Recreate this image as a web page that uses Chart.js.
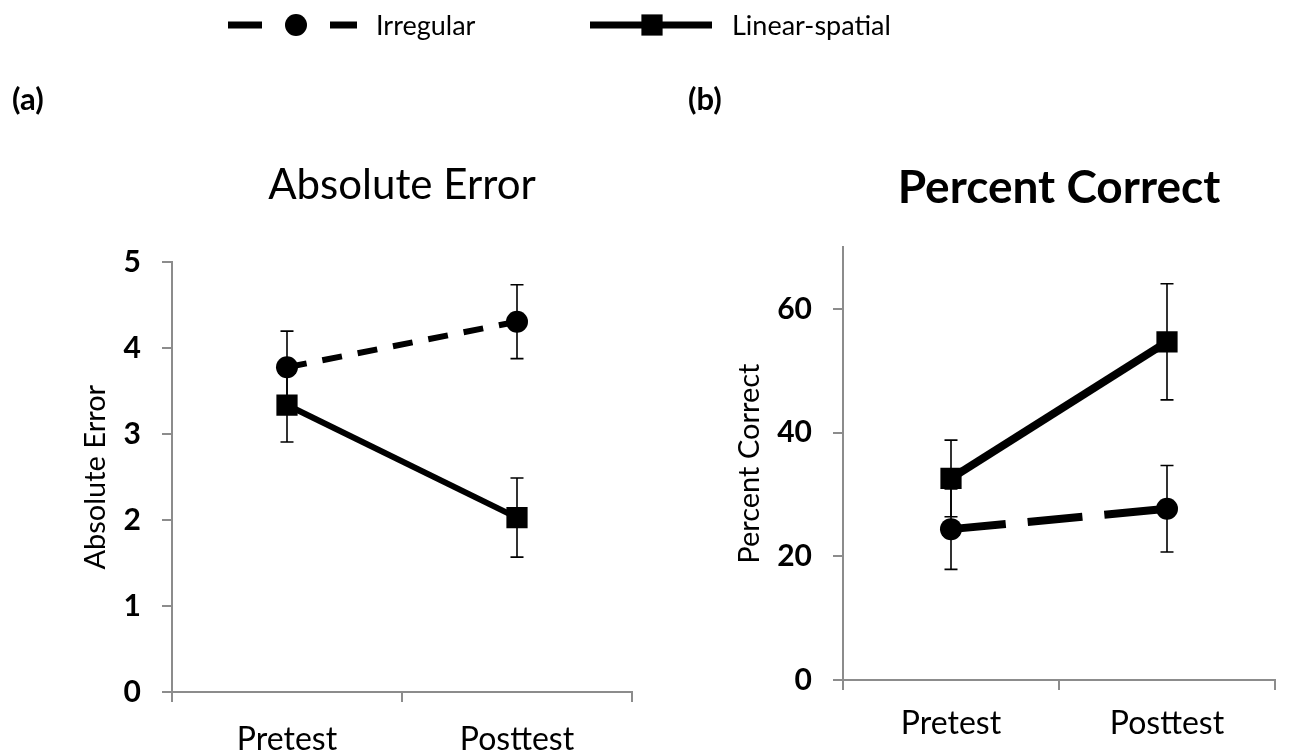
<!DOCTYPE html>
<html>
<head>
<meta charset="utf-8">
<script src="https://cdn.jsdelivr.net/npm/chart.js@4.4.0/dist/chart.umd.min.js"></script>
<style>
    body { margin: 0; background: #fff; width: 1290px; height: 754px; overflow: hidden; position: relative; }
    canvas { position: absolute; top: 0; }
    #errorChart { left: 0; }
    #percentChart { left: 560px; }
</style>
</head>
<body>
<canvas id="errorChart" width="650" height="754"></canvas>
<canvas id="percentChart" width="730" height="754"></canvas>
<script>
const FONT = 'Lato';
const AXIS_GRAY = '#8c8c8c';

const categories = ['Pretest', 'Posttest'];
const seriesNames = ['Irregular', 'Linear-spatial'];

// (a) absolute error
const errorTicks = [0, 1, 2, 3, 4, 5];
const errorIrregular = [3.78, 4.31];
const errorIrregularSE = [0.42, 0.43];
const errorLinear = [3.34, 2.03];
const errorLinearSE = [0.43, 0.46];

// (b) percent correct
const percentTicks = [0, 20, 40, 60];
const percentIrregular = [24.4, 27.7];
const percentIrregularSE = [6.5, 7.0];
const percentLinear = [32.6, 54.7];
const percentLinearSE = [6.2, 9.4];

const errorBarPlugin = {
    id: 'errorBars',
    beforeDatasetsDraw(chart) {
        const ctx = chart.ctx;
        const yScale = chart.scales.y;
        ctx.save();
        ctx.strokeStyle = '#000';
        ctx.lineWidth = 1.6;
        chart.data.datasets.forEach((ds, i) => {
            chart.getDatasetMeta(i).data.forEach((pt, j) => {
                const top = yScale.getPixelForValue(ds.data[j] + ds.errors[j]);
                const bot = yScale.getPixelForValue(ds.data[j] - ds.errors[j]);
                ctx.beginPath();
                ctx.moveTo(pt.x, top); ctx.lineTo(pt.x, bot);
                ctx.moveTo(pt.x - 6.5, top); ctx.lineTo(pt.x + 6.5, top);
                ctx.moveTo(pt.x - 6.5, bot); ctx.lineTo(pt.x + 6.5, bot);
                ctx.stroke();
            });
        });
        ctx.restore();
    }
};

// legend entry + panel letter, each chart draws its own part
const panelDecorPlugin = {
    id: 'panelDecor',
    afterDraw(chart, args, opts) {
        const ctx = chart.ctx;
        const ds = chart.data.datasets[opts.datasetIndex];
        const y = opts.legendY;
        ctx.save();
        ctx.strokeStyle = '#000';
        ctx.lineWidth = 7;
        opts.segments.forEach(seg => {
            ctx.beginPath();
            ctx.moveTo(seg[0], y);
            ctx.lineTo(seg[1], y);
            ctx.stroke();
        });
        ctx.fillStyle = '#000';
        Chart.helpers.drawPoint(ctx, {
            pointStyle: ds.pointStyle,
            radius: ds.pointRadius,
            borderWidth: 0,
            rotation: 0
        }, opts.markerX, y);
        ctx.font = '27px ' + FONT;
        ctx.textBaseline = 'middle';
        ctx.textAlign = 'left';
        ctx.fillText(ds.label, opts.textX, y + 1);
        ctx.font = 'bold 31px ' + FONT;
        ctx.fillText(opts.letter, opts.letterX, opts.letterY);
        ctx.restore();
    }
};

function makeDataset(label, data, errors, style, dash, width) {
    return {
        label: label,
        data: data,
        errors: errors,
        borderColor: '#000',
        backgroundColor: '#000',
        borderWidth: width,
        borderDash: dash,
        pointStyle: style,
        pointRadius: style === 'rect' ? 15 : 11,
        pointBorderWidth: 0,
        pointBackgroundColor: '#000',
        tension: 0
    };
}

function buildOptions(cfg) {
    return {
        responsive: false,
        animation: false,
        events: [],
        layout: { padding: { left: 0, right: cfg.padRight, top: 0, bottom: 0 } },
        plugins: {
            legend: { display: false },
            tooltip: { enabled: false },
            title: {
                display: true,
                text: cfg.title,
                fullSize: false,
                color: '#000',
                font: { family: FONT, size: cfg.titleSize, weight: cfg.titleWeight },
                padding: { top: cfg.titleTop, bottom: cfg.titleBottom }
            },
            panelDecor: cfg.decor
        },
        scales: {
            x: {
                offset: true,
                afterFit: s => { s.height = cfg.xHeight; },
                border: { display: true, color: AXIS_GRAY, width: 2 },
                grid: { offset: true, drawOnChartArea: false, drawTicks: true, tickLength: 10, color: AXIS_GRAY, lineWidth: 2 },
                ticks: { color: '#000', padding: cfg.xPad, font: { family: FONT, size: 32 } }
            },
            y: {
                min: 0,
                max: cfg.max,
                afterFit: s => { s.width = cfg.yWidth; },
                afterBuildTicks: s => { s.ticks = cfg.ticks.map(v => ({ value: v })); },
                border: { display: true, color: AXIS_GRAY, width: 2 },
                grid: { drawOnChartArea: false, drawTicks: true, tickLength: 10, color: AXIS_GRAY, lineWidth: 2 },
                ticks: { color: '#000', padding: 21, font: { family: FONT, size: 30, weight: 'bold' } },
                title: {
                    display: true,
                    text: cfg.title,
                    color: '#000',
                    font: { family: FONT, size: 29 },
                    padding: { top: cfg.yTitlePad, bottom: 0 }
                }
            }
        }
    };
}

function initializeCharts() {
    new Chart(document.getElementById('errorChart'), {
        type: 'line',
        data: {
            labels: categories,
            datasets: [
                makeDataset(seriesNames[0], errorIrregular, errorIrregularSE, 'circle', [20, 16], 6),
                makeDataset(seriesNames[1], errorLinear, errorLinearSE, 'rect', [], 6)
            ]
        },
        options: buildOptions({
            title: 'Absolute Error', titleWeight: 'normal', titleSize: 42, titleTop: 160, titleBottom: 52,
            padRight: 18, xHeight: 62, xPad: 18, yWidth: 172, yTitlePad: 78,
            max: 5, ticks: errorTicks,
            decor: {
                datasetIndex: 0, legendY: 25,
                segments: [[228, 262], [330, 357]], markerX: 296, textX: 376,
                letter: '(a)', letterX: 12, letterY: 100
            }
        }),
        plugins: [errorBarPlugin, panelDecorPlugin]
    });

    new Chart(document.getElementById('percentChart'), {
        type: 'line',
        data: {
            labels: categories,
            datasets: [
                makeDataset(seriesNames[0], percentIrregular, percentIrregularSE, 'circle', [55, 22], 8),
                makeDataset(seriesNames[1], percentLinear, percentLinearSE, 'rect', [], 8)
            ]
        },
        options: buildOptions({
            title: 'Percent Correct', titleWeight: 'bold', titleSize: 46, titleTop: 161, titleBottom: 31,
            padRight: 4, xHeight: 74, xPad: 14, yWidth: 283, yTitlePad: 172,
            max: 70, ticks: percentTicks,
            decor: {
                datasetIndex: 1, legendY: 25,
                segments: [[30, 152]], markerX: 92, textX: 172,
                letter: '(b)', letterX: 128, letterY: 100
            }
        }),
        plugins: [errorBarPlugin, panelDecorPlugin]
    });
}

document.fonts.load('22px ' + FONT).then(initializeCharts, initializeCharts);
</script>
</body>
</html>
